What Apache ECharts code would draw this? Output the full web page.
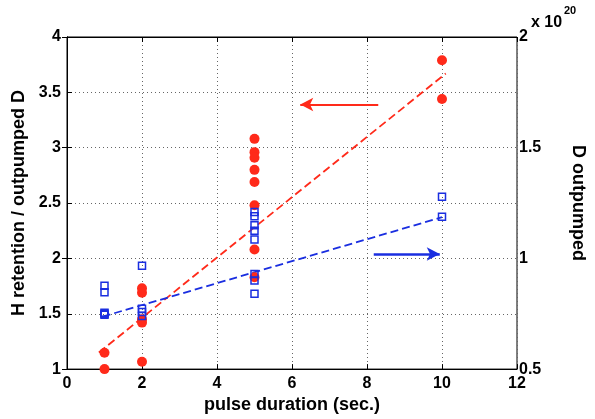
<!DOCTYPE html>
<html>
<head>
<meta charset="utf-8">
<script src="https://cdn.jsdelivr.net/npm/echarts@6/dist/echarts.min.js"></script>
<style>html,body{margin:0;padding:0;background:#fff}#c{width:595px;height:419px}</style>
</head>
<body>
<div id="c"></div>
<script>
// x tick labels / axis ranges
const xTicks = [0, 2, 4, 6, 8, 10, 12];
// Red: H retention / outpumped D (left axis)
const redX = [1, 1, 2, 2, 2, 2, 2, 5, 5, 5, 5, 5, 5, 5, 5, 10, 10];
const redY = [1.0, 1.147, 1.73, 1.69, 1.45, 1.42, 1.066, 3.08, 2.96, 2.91, 2.80, 2.69, 2.48, 2.08, 1.83, 3.79, 3.44];
// Blue: D outpumped (right axis, x 10^20)
const blueX = [1, 1, 1, 1, 1, 2, 2, 2, 2, 5, 5, 5, 5, 5, 5, 5, 5, 10, 10];
const blueY = [0.877, 0.847, 0.745, 0.75, 0.755, 0.967, 0.773, 0.758, 0.74, 1.21, 1.19, 1.15, 1.125, 1.085, 0.93, 0.90, 0.84, 1.278, 1.188];
// fitted trend lines (end points)
const redFitX = [0.85, 10.1];
const redFitY = [1.15, 3.67];
const blueFitX = [0.95, 10];
const blueFitY = [0.737, 1.186];
// annotation arrows
const redArrowX = [8.30, 6.22];
const redArrowY = 3.39;
const blueArrowX = [8.18, 9.94];
const blueArrowY = 1.02;

const RED = '#ff2a1a', BLUE = '#1a2ee0';
const zip = (a, b) => a.map((v, i) => [v, b[i]]);
const fontBase = { fontFamily: 'Liberation Sans, Arial, sans-serif', fontWeight: 'bold', color: '#000' };
const gridLine = { show: true, lineStyle: { color: '#666', type: [1, 3], width: 1 } };

const chart = echarts.init(document.getElementById('c'), null, { renderer: 'canvas' });
chart.setOption({
  animation: false,
  backgroundColor: '#fff',
  grid: { left: 67, right: 66, top: 37, bottom: 47, show: true, borderColor: '#000', borderWidth: 1, containLabel: false },
  xAxis: [{
    type: 'value', min: xTicks[0], max: xTicks[xTicks.length - 1], interval: 2,
    name: 'pulse duration (sec.)', nameLocation: 'middle', nameGap: 26,
    nameTextStyle: Object.assign({ fontSize: 18 }, fontBase),
    axisLine: { lineStyle: { color: '#000', width: 1 } },
    axisTick: { inside: true, length: 5, lineStyle: { color: '#000' } },
    axisLabel: Object.assign({ fontSize: 16, margin: 6 }, fontBase),
    splitLine: gridLine
  }, {
    type: 'value', min: 0, max: 12, interval: 2, position: 'top',
    axisLine: { lineStyle: { color: '#000' } },
    axisTick: { inside: true, length: 5, lineStyle: { color: '#000' } },
    axisLabel: { show: false }, splitLine: { show: false }
  }],
  yAxis: [{
    type: 'value', min: 1, max: 4, interval: 0.5, position: 'left',
    name: 'H retention / outpumped D', nameLocation: 'middle', nameGap: 38,
    nameTextStyle: Object.assign({ fontSize: 18 }, fontBase),
    axisLine: { show: true, lineStyle: { color: '#000' } },
    axisTick: { inside: true, length: 5, lineStyle: { color: '#000' } },
    axisLabel: Object.assign({ fontSize: 16, margin: 6 }, fontBase),
    splitLine: gridLine
  }, {
    type: 'value', min: 0.5, max: 2, interval: 0.5, position: 'right',
    name: 'D outpumped', nameLocation: 'middle', nameGap: 52, nameRotate: -90,
    nameTextStyle: Object.assign({ fontSize: 18 }, fontBase),
    axisLine: { show: true, lineStyle: { color: '#000' } },
    axisTick: { inside: true, length: 5, lineStyle: { color: '#000' } },
    axisLabel: Object.assign({ fontSize: 16, margin: 2 }, fontBase),
    splitLine: { show: false }
  }],
  graphic: [
    { type: 'text', left: 531, top: 15, style: { text: 'x 10', font: 'bold 16px Liberation Sans, Arial, sans-serif', fill: '#000' } },
    { type: 'text', left: 564, top: 5, style: { text: '20', font: 'bold 11px Liberation Sans, Arial, sans-serif', fill: '#000' } }
  ],
  series: [
    {
      type: 'line', xAxisIndex: 0, yAxisIndex: 0, data: zip(redFitX, redFitY), showSymbol: false, z: 1,
      lineStyle: { color: RED, width: 1.8, type: [8, 4] },
      markLine: {
        silent: true, symbol: ['none', 'arrow'], symbolSize: [10, 13], label: { show: false },
        lineStyle: { color: RED, width: 2, type: 'solid' },
        data: [[{ coord: [redArrowX[0], redArrowY] }, { coord: [redArrowX[1], redArrowY] }]]
      }
    },
    {
      type: 'line', xAxisIndex: 0, yAxisIndex: 1, data: zip(blueFitX, blueFitY), showSymbol: false, z: 1,
      lineStyle: { color: BLUE, width: 1.8, type: [8, 4] },
      markLine: {
        silent: true, symbol: ['none', 'arrow'], symbolSize: [10, 13], label: { show: false },
        lineStyle: { color: BLUE, width: 2.5, type: 'solid' },
        data: [[{ coord: [blueArrowX[0], blueArrowY] }, { coord: [blueArrowX[1], blueArrowY] }]]
      }
    },
    {
      type: 'scatter', xAxisIndex: 0, yAxisIndex: 0, data: zip(redX, redY), z: 3,
      symbol: 'circle', symbolSize: 10, itemStyle: { color: RED, opacity: 1 }
    },
    {
      type: 'scatter', xAxisIndex: 0, yAxisIndex: 1, data: zip(blueX, blueY), z: 4,
      symbol: 'rect', symbolSize: 7,
      itemStyle: { color: 'rgba(255,255,255,0)', borderColor: BLUE, borderWidth: 1.5, opacity: 1 }
    }
  ]
});
</script>
</body>
</html>
